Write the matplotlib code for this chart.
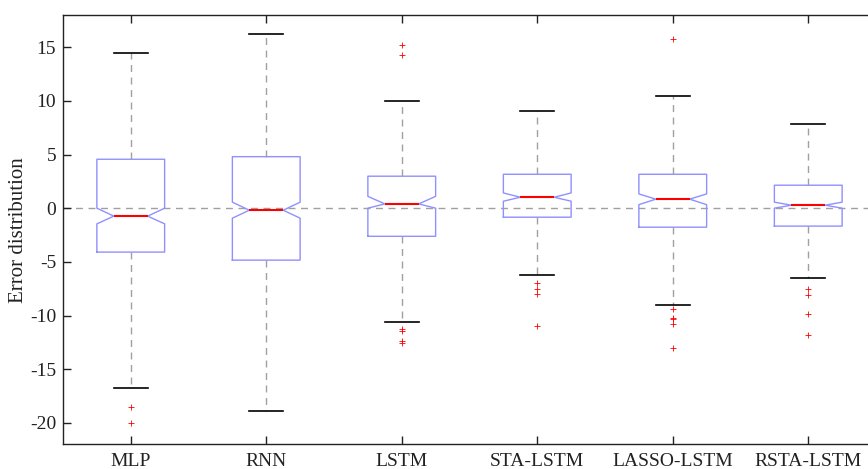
import matplotlib
matplotlib.use("Agg")
import matplotlib.pyplot as plt

plt.rcParams["font.family"] = ["Liberation Serif", "DejaVu Serif"]
plt.rcParams["axes.unicode_minus"] = False

models = ["MLP", "RNN", "LSTM", "STA-LSTM", "LASSO-LSTM", "RSTA-LSTM"]
medians = [-0.74, -0.19, 0.40, 1.02, 0.84, 0.28]
q1 = [-4.09, -4.84, -2.62, -0.84, -1.77, -1.67]
q3 = [4.56, 4.80, 2.98, 3.16, 3.16, 2.14]
whislo = [-16.78, -18.92, -10.60, -6.23, -9.02, -6.51]
whishi = [14.50, 16.19, 9.95, 9.02, 10.42, 7.81]
cilo = [-1.46, -0.93, 0.00, 0.65, 0.33, 0.00]
cihi = [0.00, 0.56, 1.10, 1.42, 1.33, 0.56]
fliers = [
    [-18.55, -20.0],
    [],
    [15.16, 14.23, -11.23, -11.44, -12.37, -12.53],
    [-6.95, -7.54, -8.0, -11.01],
    [15.81, -9.37, -10.23, -10.33, -10.79, -13.0],
    [-7.57, -8.07, -9.9, -11.85],
]

stats = []
for i in range(len(models)):
    stats.append({"med": medians[i], "q1": q1[i], "q3": q3[i],
                  "whislo": whislo[i], "whishi": whishi[i],
                  "cilo": cilo[i], "cihi": cihi[i], "fliers": fliers[i]})

fig = plt.figure(figsize=(8.68, 4.69), dpi=100)
ax = fig.add_axes([63/868, 1 - 444.3/469, 813/868, 429.3/469])

ax.axhline(0, color="#a0a0a0", linestyle=(0, (5, 4)), linewidth=1.0, zorder=0)

ax.bxp(stats, positions=range(1, 7), widths=0.5, shownotches=True,
       boxprops=dict(color="#9090ff", linewidth=1.0),
       medianprops=dict(color="red", linewidth=1.5),
       whiskerprops=dict(color="#a0a0a0", linestyle=(0, (5, 4)), linewidth=1.0),
       capprops=dict(color="black", linewidth=1.2),
       flierprops=dict(marker="+", markeredgecolor="red", markersize=4,
                       markeredgewidth=0.6, linestyle="none"))

ax.set_xlim(0.5, 6.5)
ax.set_ylim(-22, 18)
ax.set_yticks([-20, -15, -10, -5, 0, 5, 10, 15])
ax.set_xticks(range(1, 7))
ax.set_xticklabels(models)
ax.tick_params(direction="in", length=6, width=1, labelsize=14, colors="#222222",
               top=True, right=True)
ax.tick_params(axis="x", pad=6)
ax.tick_params(axis="y", pad=5)
for s in ax.spines.values():
    s.set_linewidth(1.0)
    s.set_color("#222222")
ax.set_ylabel("Error distribution", fontsize=15, color="#222222", labelpad=1)

fig.savefig("out.png", dpi=100)
